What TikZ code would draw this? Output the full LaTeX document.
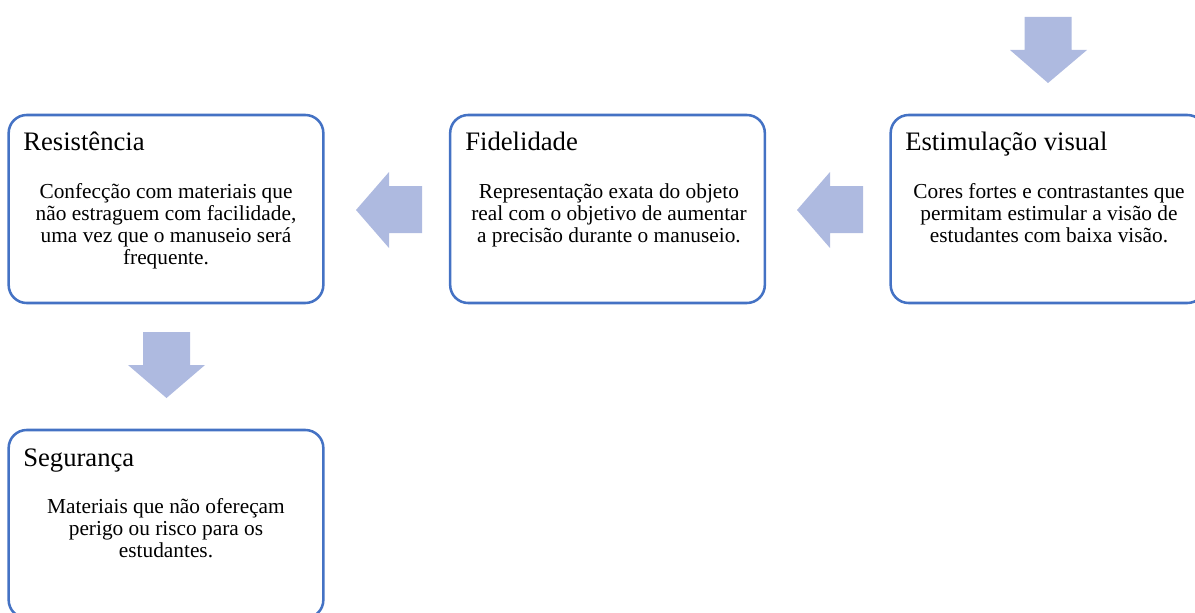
\documentclass[tikz,border=0pt]{standalone}
\usepackage{fontspec}
\setmainfont{Liberation Serif}
\definecolor{boxblue}{RGB}{68,114,196}
\definecolor{arrowfill}{RGB}{174,186,224}
\begin{document}
\begin{tikzpicture}[x=0.75pt,y=-0.75pt,
  box/.style={draw=boxblue, line width=1.9pt, rounded corners=13.5pt, fill=white,
    minimum width=236pt, minimum height=141pt, inner sep=0pt},
  title/.style={anchor=base west, inner sep=0pt, font=\fontsize{20}{22}\selectfont},
  body/.style={anchor=base, inner sep=0pt, align=center, font=\fontsize{16}{16.5}\selectfont},
  blockarrow/.style={fill=arrowfill, draw=none}]
\useasboundingbox (0,0) rectangle (1195,613);
\begin{scope}
\clip (0,0) rectangle (1195,613);
% boxes
\node[box] (res) at (166,209) {};
\node[box] (fid) at (607.5,209) {};
\node[box] (est) at (1048,209) {};
\node[box] (seg) at (166,524) {};
% titles
\node[title] (resT) at (23,151) {Resistência};
\node[title] (fidT) at (465,151) {Fidelidade};
\node[title] (estT) at (905,151) {Estimulação visual};
\node[title] (segT) at (23,466) {Segurança};
% bodies (anchor base = baseline of last line)
\node[body] (resB) at (166,264) {Confecção com materiais que\\não estraguem com facilidade,\\uma vez que o manuseio será\\frequente.};
\node[body] (fidB) at (609,242) {Representação exata do objeto\\real com o objetivo de aumentar\\a precisão durante o manuseio.};
\node[body] (estB) at (1049,242) {Cores fortes e contrastantes que\\permitam estimular a visão de\\estudantes com baixa visão.};
\node[body] (segB) at (166,557) {Materiais que não ofereçam\\perigo ou risco para os\\estudantes.};
% block arrows
\fill[blockarrow] (1024.5,17) -- (1071.5,17) -- (1071.5,50) -- (1087,50) -- (1048,83) -- (1010,50) -- (1024.5,50) -- cycle;
\fill[blockarrow] (143,332) -- (190,332) -- (190,365) -- (205,365) -- (166.5,398) -- (128,365) -- (143,365) -- cycle;
\fill[blockarrow] (422,186) -- (422,233) -- (389,233) -- (389,248) -- (356,210) -- (389,172) -- (389,186) -- cycle;
\fill[blockarrow] (863,186) -- (863,233) -- (830,233) -- (830,248) -- (797,210) -- (830,172) -- (830,186) -- cycle;
\end{scope}
\end{tikzpicture}
\end{document}
